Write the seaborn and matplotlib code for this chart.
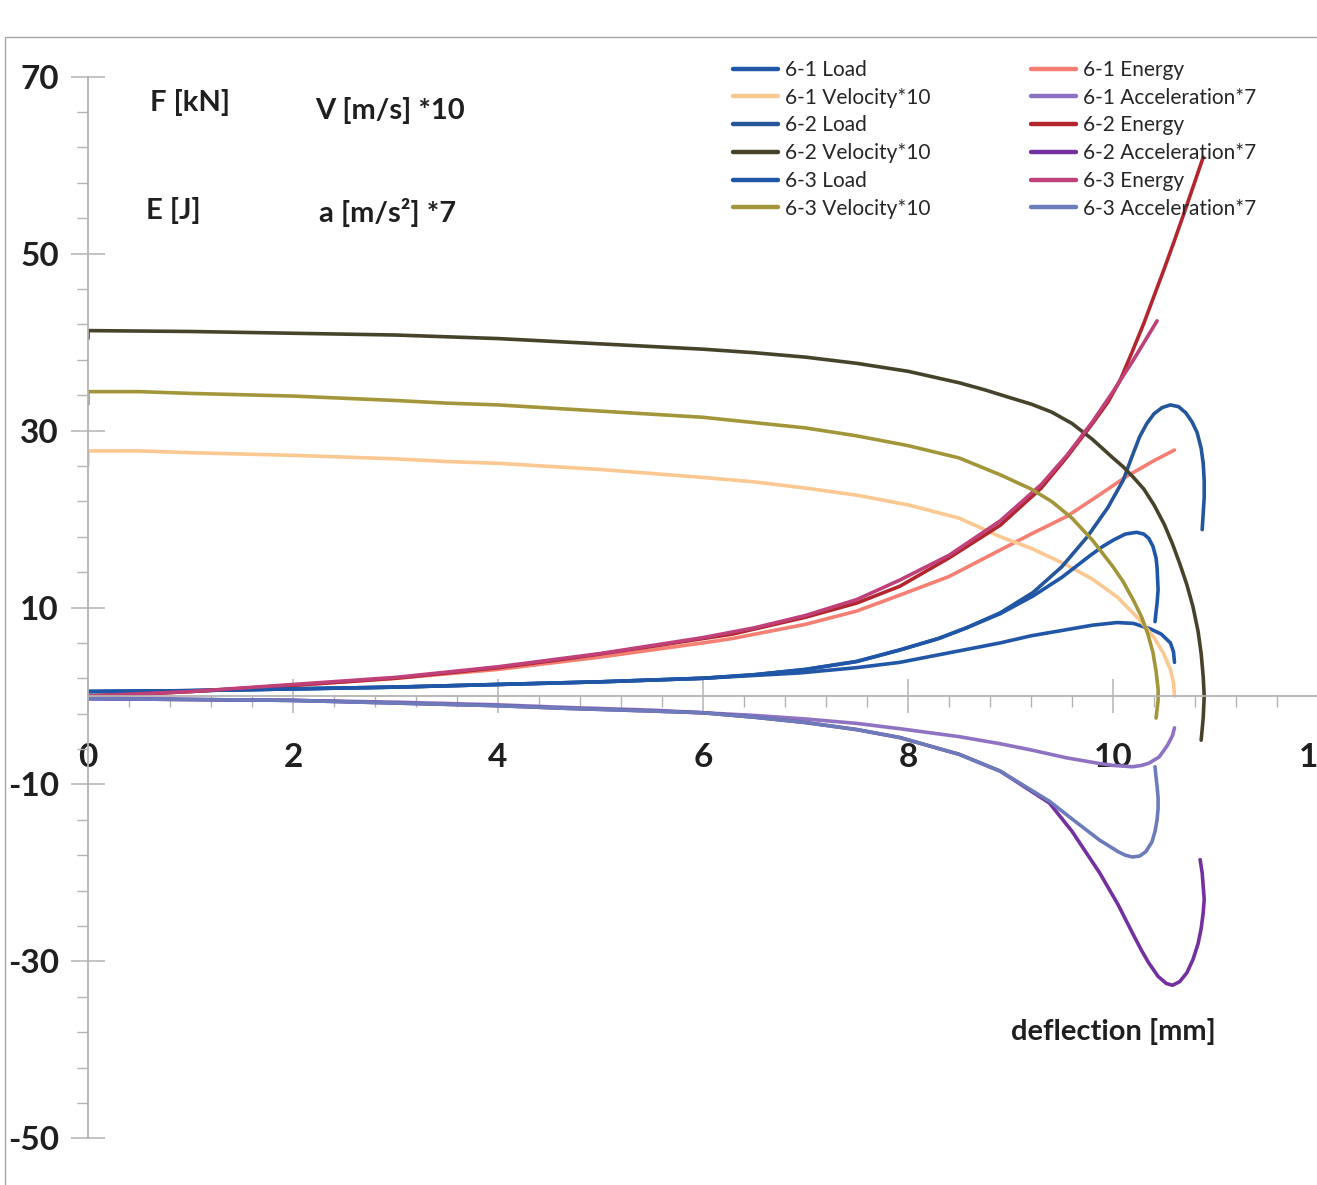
import numpy as np
import pandas as pd
import matplotlib
matplotlib.use("Agg")
import matplotlib.pyplot as plt
import seaborn as sns
from matplotlib.ticker import FixedLocator
from matplotlib.patches import Rectangle

# ---------------- data (deflection [mm] vs value) ----------------
load_61_x = [0, 1, 2, 3, 4, 5, 6, 6.94, 7.5, 7.92, 8.5, 8.9, 9.2, 9.55, 9.8, 10.04, 10.2, 10.36, 10.47, 10.56, 10.59, 10.6]
load_61_y = [0.5, 0.6, 0.8, 1.0, 1.3, 1.6, 2.0, 2.6, 3.2, 3.8, 5.1, 6.0, 6.8, 7.5, 8.0, 8.3, 8.2, 7.6, 7.0, 6.0, 5.0, 3.8]

energy_61_x = [0, 1, 2, 3, 4, 5, 6, 6.29, 7, 7.5, 7.92, 8.4, 8.9, 9.2, 9.55, 9.85, 10.13, 10.4, 10.6]
energy_61_y = [0, 0.5, 1.2, 2.0, 3.0, 4.4, 6.0, 6.5, 8.1, 9.6, 11.4, 13.5, 16.5, 18.3, 20.3, 22.6, 24.8, 26.6, 27.8]

vel_61_x = [0, 0, 0.5, 1, 2, 3, 3.5, 4, 5, 6, 6.5, 7, 7.5, 8, 8.5, 8.9, 9.2, 9.55, 9.8, 10.04, 10.15, 10.26, 10.33, 10.4, 10.49, 10.56, 10.59, 10.6]
vel_61_y = [26.1, 27.7, 27.7, 27.5, 27.2, 26.8, 26.5, 26.3, 25.6, 24.7, 24.2, 23.5, 22.7, 21.6, 20.1, 18.0, 16.7, 14.8, 13.2, 11.2, 9.9, 8.6, 7.6, 6.6, 4.9, 3.0, 1.5, 0.0]

acc_61_x = [0, 1, 2, 3, 4, 4.67, 5.5, 6, 6.5, 7, 7.5, 7.92, 8.5, 8.9, 9.2, 9.55, 9.85, 10.0, 10.19, 10.28, 10.35, 10.45, 10.53, 10.58, 10.6]
acc_61_y = [-0.3, -0.4, -0.5, -0.7, -1.0, -1.3, -1.6, -1.9, -2.2, -2.6, -3.1, -3.7, -4.6, -5.4, -6.1, -7.0, -7.6, -7.85, -8.0, -7.85, -7.6, -6.9, -5.6, -4.5, -3.6]

load_62_x = [0, 1, 2, 3, 4, 5, 6, 6.5, 7, 7.5, 7.92, 8.3, 8.57, 8.9, 9.22, 9.5, 9.75, 9.95, 10.1, 10.18, 10.26, 10.33, 10.4, 10.48, 10.56,
             10.64, 10.71, 10.77, 10.82, 10.86, 10.88, 10.89, 10.89, 10.88, 10.87]
load_62_y = [0.5, 0.6, 0.8, 1.0, 1.3, 1.6, 2.0, 2.4, 3.0, 3.9, 5.2, 6.5, 7.7, 9.4, 11.7, 14.6, 18.0, 21.3, 24.4, 26.9, 29.3, 30.8, 31.9, 32.6, 32.9,
             32.7, 32.0, 31.0, 29.8, 28.0, 26.3, 24.3, 22.5, 20.6, 18.8]

energy_62_x = [0, 0.5, 1, 2, 3, 4, 4.67, 5.5, 6.29, 7, 7.5, 7.92, 8.4, 8.9, 9.3, 9.55, 9.8, 9.95, 10.07, 10.18, 10.3, 10.4, 10.5, 10.6, 10.7, 10.78, 10.88]
energy_62_y = [0, 0.2, 0.5, 1.2, 2.0, 3.2, 4.2, 5.6, 7.0, 8.9, 10.5, 12.4, 15.6, 19.3, 23.5, 27.0, 30.8, 33.2, 35.7, 38.7, 42.1, 45.2, 48.3, 51.5, 54.8, 57.5, 60.9]

vel_62_x = [0, 0, 1, 2, 3, 4, 5, 6, 6.5, 7, 7.5, 8, 8.5, 8.75, 9, 9.2, 9.4, 9.6, 9.8, 10.0, 10.1, 10.2, 10.3, 10.4, 10.5, 10.58, 10.65, 10.72,
            10.78, 10.83, 10.86, 10.88, 10.89, 10.88, 10.86]
vel_62_y = [40.4, 41.3, 41.2, 41.0, 40.8, 40.4, 39.8, 39.2, 38.8, 38.3, 37.6, 36.7, 35.4, 34.6, 33.7, 33.0, 32.1, 30.8, 29.0, 26.9, 25.9, 24.7, 23.4,
            21.6, 19.4, 17.2, 15.0, 12.6, 10.1, 7.3, 4.8, 2.2, 0.0, -2.5, -5.0]

acc_62_x = [0, 1, 2, 3, 4, 4.67, 5.5, 6, 6.5, 7, 7.5, 7.92, 8.5, 8.9, 9.38, 9.6, 9.87, 10.05, 10.19, 10.28, 10.35, 10.44, 10.52, 10.58, 10.65,
            10.72, 10.78, 10.83, 10.86, 10.88, 10.89, 10.88, 10.87, 10.85]
acc_62_y = [-0.3, -0.4, -0.5, -0.8, -1.1, -1.4, -1.7, -1.9, -2.4, -3.0, -3.8, -4.7, -6.6, -8.5, -12.1, -15.3, -20.0, -23.6, -26.8, -28.8, -30.2,
            -31.7, -32.5, -32.7, -32.3, -31.3, -29.8, -28.0, -26.3, -24.5, -23.0, -21.5, -20.0, -18.5]

load_63_x = [0, 1, 2, 3, 4, 5, 6, 6.5, 7, 7.5, 7.92, 8.3, 8.57, 8.9, 9.22, 9.5, 9.78, 9.9, 10.0, 10.12, 10.23, 10.3, 10.35, 10.39, 10.42,
             10.43, 10.44, 10.43, 10.42, 10.41]
load_63_y = [0.5, 0.6, 0.8, 1.0, 1.3, 1.6, 2.0, 2.4, 3.0, 3.9, 5.2, 6.5, 7.7, 9.3, 11.3, 13.4, 15.9, 16.9, 17.6, 18.3, 18.5, 18.3, 17.8, 16.9, 15.6,
             14.5, 12.0, 10.5, 9.5, 8.4]

energy_63_x = [0, 1, 2, 3, 4, 5, 6, 6.5, 7, 7.5, 7.92, 8.4, 8.9, 9.3, 9.55, 9.8, 10.0, 10.2, 10.43]
energy_63_y = [0, 0.5, 1.3, 2.1, 3.3, 4.8, 6.6, 7.7, 9.1, 10.9, 13.1, 15.9, 19.8, 23.9, 27.2, 31.0, 34.4, 38.0, 42.4]

vel_63_x = [0, 0, 0.5, 1, 2, 3, 3.5, 4, 5, 6, 6.5, 7, 7.5, 8, 8.5, 8.9, 9.2, 9.4, 9.6, 9.8, 10.0, 10.1, 10.2, 10.28, 10.34, 10.39, 10.42,
            10.44, 10.44, 10.43, 10.42]
vel_63_y = [33.0, 34.4, 34.4, 34.2, 33.9, 33.4, 33.1, 32.9, 32.2, 31.5, 30.9, 30.3, 29.4, 28.3, 26.9, 25.0, 23.4, 22.0, 20.1, 17.6, 14.6, 12.9,
            10.8, 8.9, 7.0, 4.9, 2.8, 0.8, -0.5, -1.5, -2.5]

acc_63_x = [0, 1, 2, 3, 4, 4.67, 5.5, 6, 6.5, 7, 7.5, 7.92, 8.5, 8.9, 9.38, 9.6, 9.87, 10.05, 10.12, 10.19, 10.26, 10.32, 10.38, 10.41, 10.43,
            10.44, 10.44, 10.43, 10.42, 10.41]
acc_63_y = [-0.3, -0.4, -0.5, -0.8, -1.1, -1.4, -1.7, -1.9, -2.4, -3.0, -3.8, -4.7, -6.6, -8.5, -11.9, -13.9, -16.3, -17.6, -18.0, -18.2, -18.1,
            -17.6, -16.5, -15.3, -14.0, -12.7, -11.5, -10.2, -9.2, -8.0]

x_ticks = [0, 2, 4, 6, 8, 10, 12]
x_tick_labels = ["0", "2", "4", "6", "8", "10", "12"]
y_ticks = [-50, -30, -10, 10, 30, 50, 70]
y_tick_labels = ["-50", "-30", "-10", "10", "30", "50", "70"]

# ---------------- styling ----------------
series = [
    ("6-1 Load", load_61_x, load_61_y, "#2256a6"),
    ("6-1 Energy", energy_61_x, energy_61_y, "#f47f72"),
    ("6-1 Velocity*10", vel_61_x, vel_61_y, "#fac890"),
    ("6-1 Acceleration*7", acc_61_x, acc_61_y, "#8f72c2"),
    ("6-2 Load", load_62_x, load_62_y, "#23569a"),
    ("6-2 Energy", energy_62_x, energy_62_y, "#b3262d"),
    ("6-2 Velocity*10", vel_62_x, vel_62_y, "#47432b"),
    ("6-2 Acceleration*7", acc_62_x, acc_62_y, "#7530a0"),
    ("6-3 Load", load_63_x, load_63_y, "#1f56a8"),
    ("6-3 Energy", energy_63_x, energy_63_y, "#c0407a"),
    ("6-3 Velocity*10", vel_63_x, vel_63_y, "#a3963a"),
    ("6-3 Acceleration*7", acc_63_x, acc_63_y, "#6c7cba"),
]

sns.set_theme(style="white")
plt.rcParams["font.family"] = ["Lato", "DejaVu Sans"]

W, H = 1317, 1185
fig = plt.figure(figsize=(W / 100, H / 100), dpi=100)
fig.patch.set_facecolor("white")

# chart-area border (Excel style)
fig.patches.append(Rectangle((5 / W, -0.1), 1.2, (1 - 37 / H) + 0.1, transform=fig.transFigure,
                             fill=False, edgecolor="#a6a6a6", lw=1.0, zorder=0))

ax_top, ax_bot = 76.7, 1138.3
ax = fig.add_axes([88 / W, 1 - ax_bot / H, 1230 / W, (ax_bot - ax_top) / H])
ax.set_facecolor("none")

for name, xs, ys, col in series:
    df = pd.DataFrame({"x": xs, "y": ys})
    sns.lineplot(data=df, x="x", y="y", sort=False, estimator=None, color=col,
                 lw=2.6, ax=ax, label=name)

ax.set_xlim(0, 12)
ax.set_ylim(-50, 70)
ax.set_xlabel("")
ax.set_ylabel("")

for s in ["top", "right"]:
    ax.spines[s].set_visible(False)
ax.spines["bottom"].set_position(("data", 0))
for s in ["left", "bottom"]:
    ax.spines[s].set_color("#b3b3b3")
    ax.spines[s].set_linewidth(1.3)

ax.set_xticks(x_ticks)
ax.set_xticklabels(x_tick_labels)
ax.set_yticks(y_ticks)
ax.set_yticklabels(y_tick_labels)
ax.xaxis.set_minor_locator(FixedLocator(np.arange(0, 12.01, 0.4)))
ax.yaxis.set_minor_locator(FixedLocator(np.arange(-50, 70.1, 4)))
ax.tick_params(which="major", direction="inout", length=24, width=1.1, color="#b3b3b3",
               labelsize=24, labelcolor="#1f1f1f")
ax.tick_params(which="minor", direction="out", length=8, width=1.0, color="#b3b3b3")
ax.tick_params(axis="x", which="major", pad=22)
ax.tick_params(axis="y", which="major", pad=9)
ax.tick_params(axis="both", which="both", bottom=True, left=True)
for lbl in ax.get_xticklabels() + ax.get_yticklabels():
    lbl.set_fontweight("bold")

# legend, Excel order (row-wise across two columns)
handles, labels = ax.get_legend_handles_labels()
hmap = dict(zip(labels, handles))
order = ["6-1 Load", "6-1 Velocity*10", "6-2 Load", "6-2 Velocity*10", "6-3 Load", "6-3 Velocity*10",
         "6-1 Energy", "6-1 Acceleration*7", "6-2 Energy", "6-2 Acceleration*7", "6-3 Energy",
         "6-3 Acceleration*7"]
leg = ax.legend([hmap[k] for k in order], order, ncol=2, loc="upper left",
                bbox_to_anchor=(733 / W, 1 - 60 / H), bbox_transform=fig.transFigure,
                frameon=False, borderpad=0, borderaxespad=0, handlelength=2.16,
                handletextpad=0.34, columnspacing=4.8, labelspacing=0.37,
                prop={"family": ["Lato", "DejaVu Sans"], "size": 15})
for t in leg.get_texts():
    t.set_color("#262626")
for l in leg.get_lines():
    l.set_linewidth(3.2)

# annotations
def ftext(cx, py, s):
    fig.text(cx / W, 1 - py / H, s, fontsize=21, fontweight="bold", color="#1f1f1f",
             ha="center", va="baseline")

ftext(190, 111, "F [kN]")
ftext(390, 119, "V [m/s] *10")
ftext(173, 219, "E [J]")
ftext(388, 222, "a [m/s²] *7")
ftext(1113, 1040, "deflection [mm]")

fig.savefig("out.png", dpi=100, facecolor="white")
